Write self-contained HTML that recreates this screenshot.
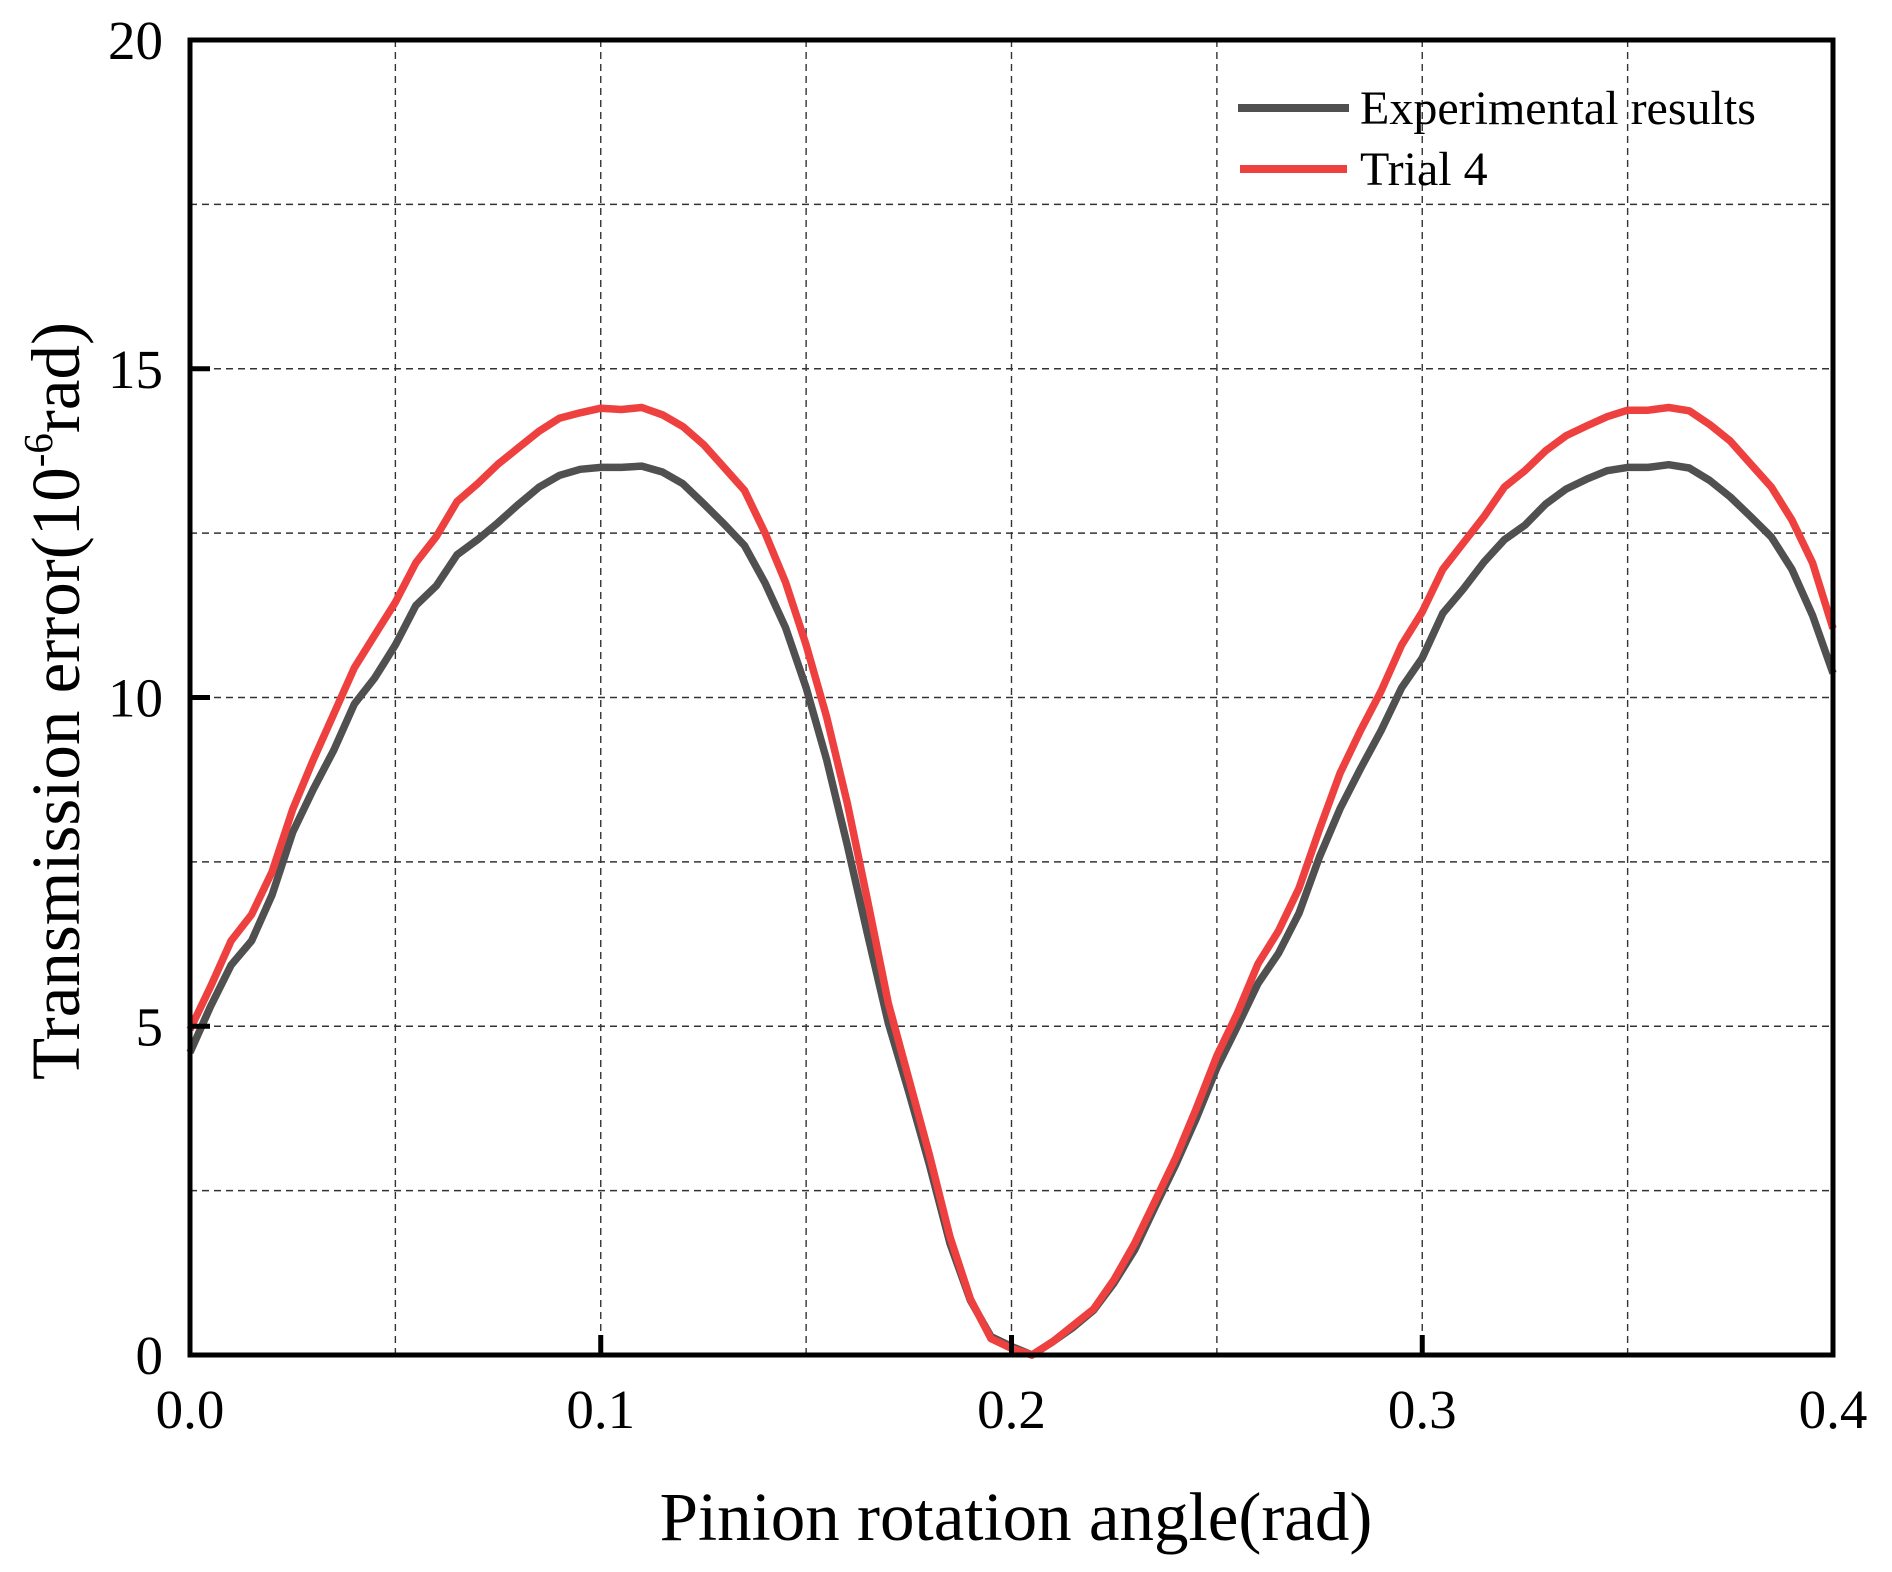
<!DOCTYPE html>
<html><head><meta charset="utf-8"><style>
body{margin:0;background:#fff}
svg{display:block;font-family:"Liberation Serif",serif}
</style></head><body>
<svg id="chart" width="1892" height="1572" viewBox="0 0 1892 1572" xmlns="http://www.w3.org/2000/svg">
<g id="grid"></g>
<g id="series"></g>
<rect x="190" y="40" width="1643" height="1315" fill="none" stroke="#000" stroke-width="5"/>
<g id="ticks"></g>
<text x="1016" y="1540" font-size="69" text-anchor="middle">Pinion rotation angle(rad)</text>
<text transform="translate(79,701) rotate(-90)" font-size="69" text-anchor="middle">Transmission error(10<tspan font-size="41" dy="-27">-6</tspan><tspan dy="27">rad)</tspan></text>
<g>
<line x1="1238" y1="108" x2="1349" y2="108" stroke="#505050" stroke-width="8"/>
<text x="1360" y="124" font-size="48">Experimental results</text>
<line x1="1240" y1="169" x2="1347" y2="169" stroke="#ef4040" stroke-width="8"/>
<text x="1360" y="185" font-size="48">Trial 4</text>
</g>
</svg>
<script>
const xValues=[0,0.005,0.01,0.015,0.02,0.025,0.03,0.035,0.04,0.045,0.05,0.055,0.06,0.065,0.07,0.075,0.08,0.085,0.09,0.095,0.1,0.105,0.11,0.115,0.12,0.125,0.13,0.135,0.14,0.145,0.15,0.155,0.16,0.165,0.17,0.175,0.18,0.185,0.19,0.195,0.2,0.205,0.21,0.215,0.22,0.225,0.23,0.235,0.24,0.245,0.25,0.255,0.26,0.265,0.27,0.275,0.28,0.285,0.29,0.295,0.3,0.305,0.31,0.315,0.32,0.325,0.33,0.335,0.34,0.345,0.35,0.355,0.36,0.365,0.37,0.375,0.38,0.385,0.39,0.395,0.4];
const experimental=[4.6,5.3,5.93,6.3,7.0,7.95,8.6,9.2,9.9,10.3,10.8,11.4,11.7,12.17,12.4,12.66,12.94,13.2,13.38,13.47,13.5,13.5,13.52,13.43,13.25,12.95,12.64,12.31,11.74,11.06,10.15,9.05,7.76,6.39,5.05,4.0,2.9,1.7,0.83,0.28,0.13,0,0.2,0.42,0.68,1.1,1.6,2.26,2.9,3.6,4.37,5.0,5.65,6.11,6.72,7.58,8.31,8.92,9.5,10.15,10.6,11.28,11.65,12.06,12.4,12.62,12.94,13.17,13.32,13.45,13.5,13.5,13.54,13.49,13.3,13.05,12.75,12.44,11.95,11.25,10.37];
const trial4=[4.95,5.6,6.3,6.7,7.35,8.3,9.05,9.75,10.45,10.95,11.45,12.05,12.45,12.98,13.25,13.55,13.8,14.05,14.25,14.33,14.4,14.38,14.41,14.3,14.12,13.85,13.5,13.15,12.5,11.75,10.8,9.7,8.4,6.9,5.35,4.2,3.05,1.8,0.85,0.25,0.1,0,0.2,0.45,0.7,1.15,1.7,2.35,3.0,3.75,4.55,5.2,5.95,6.45,7.1,8.0,8.85,9.5,10.1,10.8,11.3,11.95,12.35,12.75,13.2,13.45,13.75,13.98,14.13,14.27,14.37,14.37,14.41,14.36,14.15,13.9,13.55,13.2,12.7,12.05,11.05];
const xTickLabels=["0.0","0.1","0.2","0.3","0.4"];
const yTickLabels=["0","5","10","15","20"];
const xGridValues=[0.05,0.1,0.15,0.2,0.25,0.3,0.35];
const yGridValues=[2.5,5,7.5,10,12.5,15,17.5];

const L=190,R=1833,T=40,B=1355;
const xs=v=>L+(v-0)/(0.4-0)*(R-L);
const ys=v=>B-(v-0)/(20-0)*(B-T);
const NS="http://www.w3.org/2000/svg";
function mk(tag,parent){const e=document.createElementNS(NS,tag);parent.appendChild(e);return e;}
const grid=document.getElementById('grid'),ticks=document.getElementById('ticks'),series=document.getElementById('series');
xGridValues.forEach(v=>{const l=mk('line',grid);


l.setAttribute('x1',xs(v));l.setAttribute('x2',xs(v));l.setAttribute('y1',T);l.setAttribute('y2',B);
l.setAttribute('stroke','#333');l.setAttribute('stroke-width','1.4');l.setAttribute('stroke-dasharray','7,5');});
yGridValues.forEach(v=>{const l=mk('line',grid);


l.setAttribute('y1',ys(v));l.setAttribute('y2',ys(v));l.setAttribute('x1',L);l.setAttribute('x2',R);
l.setAttribute('stroke','#333');l.setAttribute('stroke-width','1.4');l.setAttribute('stroke-dasharray','7,5');});
xTickLabels.forEach(s=>{const v=parseFloat(s);
const l=mk('line',ticks);


l.setAttribute('x1',xs(v));l.setAttribute('x2',xs(v));l.setAttribute('y1',B);l.setAttribute('y2',B-20);l.setAttribute('stroke','#000');l.setAttribute('stroke-width','5');
const t=mk('text',ticks);


t.setAttribute('x',xs(v));t.setAttribute('y',1428);t.setAttribute('font-size','55');t.setAttribute('text-anchor','middle');t.textContent=s;});
yTickLabels.forEach(s=>{const v=parseFloat(s);
const l=mk('line',ticks);


l.setAttribute('y1',ys(v));l.setAttribute('y2',ys(v));l.setAttribute('x1',L);l.setAttribute('x2',L+20);l.setAttribute('stroke','#000');l.setAttribute('stroke-width','5');
const t=mk('text',ticks);


t.setAttribute('x',163);t.setAttribute('y',ys(v)+19);t.setAttribute('font-size','55');t.setAttribute('text-anchor','end');t.textContent=s;});
function draw(vals,color,name){const p=mk('polyline',series);


p.setAttribute('points',vals.map((v,i)=>xs(xValues[i]).toFixed(1)+','+ys(v).toFixed(1)).join(' '));
p.setAttribute('fill','none');p.setAttribute('stroke',color);p.setAttribute('stroke-width','7.5');p.setAttribute('stroke-linejoin','round');}
draw(experimental,'#505050','experimental-line');
draw(trial4,'#ef4040','trial4-line');
</script>
</body></html>
